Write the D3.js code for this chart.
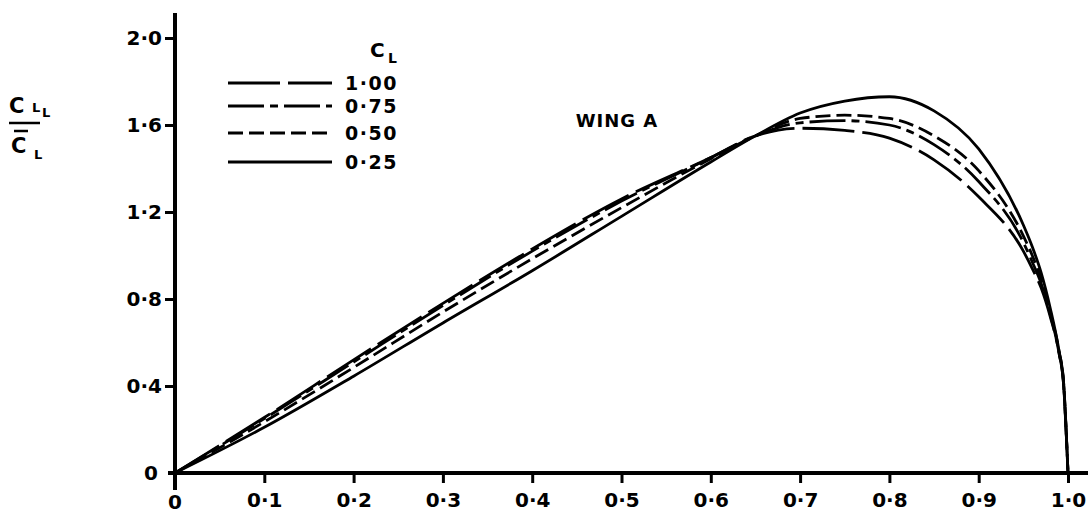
<!DOCTYPE html>
<html>
<head>
<meta charset="utf-8">
<script src="https://cdn.jsdelivr.net/npm/d3@7"></script>
<style>
  html, body { margin: 0; padding: 0; background: #fff; }
  text { font-family: "DejaVu Sans", sans-serif; font-weight: bold; fill: #000; }
</style>
</head>
<body>
<div id="chart"></div>
<script>
// spanwise station (eta) shared by all curves
const eta = [0, 0.1, 0.2, 0.3, 0.4, 0.5, 0.6, 0.65, 0.7, 0.75, 0.8, 0.85, 0.9, 0.95, 0.96, 0.97, 0.98, 0.99, 0.995, 1.0];

// local lift ratio C_LL / C_L for each overall C_L
const cl100 = [0, 0.255, 0.52, 0.78, 1.03, 1.26, 1.45, 1.55, 1.585, 1.575, 1.54, 1.44, 1.27, 1.02, 0.94, 0.85, 0.72, 0.55, 0.41, 0];
const cl075 = [0, 0.25, 0.51, 0.77, 1.02, 1.25, 1.45, 1.55, 1.61, 1.62, 1.60, 1.51, 1.34, 1.06, 0.97, 0.87, 0.73, 0.55, 0.41, 0];
const cl050 = [0, 0.235, 0.485, 0.74, 0.985, 1.22, 1.445, 1.55, 1.63, 1.645, 1.63, 1.55, 1.39, 1.09, 1.00, 0.89, 0.74, 0.56, 0.42, 0];
const cl025 = [0, 0.21, 0.445, 0.69, 0.93, 1.18, 1.43, 1.55, 1.655, 1.71, 1.73, 1.665, 1.49, 1.14, 1.04, 0.92, 0.76, 0.56, 0.42, 0];

const seriesLabels = ["1·00", "0·75", "0·50", "0·25"];
const seriesValues = [cl100, cl075, cl050, cl025];
const seriesDash = ["52,8", "36,6,8,6", "15,6", null];

const xTicks = [0, 0.1, 0.2, 0.3, 0.4, 0.5, 0.6, 0.7, 0.8, 0.9, 1.0];
const xTickLabels = ["0", "0·1", "0·2", "0·3", "0·4", "0·5", "0·6", "0·7", "0·8", "0·9", "1·0"];
const yTicks = [0, 0.4, 0.8, 1.2, 1.6, 2.0];
const yTickLabels = ["0", "0·4", "0·8", "1·2", "1·6", "2·0"];

const W = 1090, H = 515;

const svg = d3.select("#chart").append("svg")
    .attr("width", W)
    .attr("height", H);

const x = d3.scaleLinear().domain([0, 1]).range([175, 1068]);
const y = d3.scaleLinear().domain([0, 2]).range([473, 38]);

// axes lines
svg.append("line")
    .attr("x1", x(0)).attr("x2", x(0))
    .attr("y1", 13).attr("y2", 490)
    .attr("stroke", "#000").attr("stroke-width", 4);
svg.append("line")
    .attr("x1", 168).attr("x2", 1088)
    .attr("y1", y(0)).attr("y2", y(0))
    .attr("stroke", "#000").attr("stroke-width", 4);

// x ticks
const xAxis = d3.axisBottom(x)
    .tickValues(xTicks.slice(1))
    .tickSize(10)
    .tickFormat((d, i) => xTickLabels[i + 1]);
const gx = svg.append("g")
    .attr("transform", "translate(0," + y(0) + ")")
    .call(xAxis);
gx.select(".domain").remove();
gx.selectAll(".tick line").attr("stroke", "#000").attr("stroke-width", 3);
gx.selectAll(".tick text")
    .attr("y", 27)
    .attr("dy", "0.35em")
    .style("font-size", "20px")
    .style("font-family", "DejaVu Sans")
    .style("font-weight", "bold");

// the x "0" label sits straight under the origin
svg.append("text")
    .attr("x", x(0)).attr("y", 502)
    .attr("dy", "0.35em")
    .attr("text-anchor", "middle")
    .style("font-size", "20px")
    .text(xTickLabels[0]);

// y ticks
const yAxis = d3.axisLeft(y)
    .tickValues(yTicks.slice(1))
    .tickSize(10)
    .tickPadding(3)
    .tickFormat((d, i) => yTickLabels[i + 1]);
const gy = svg.append("g")
    .attr("transform", "translate(" + x(0) + ",0)")
    .call(yAxis);
gy.select(".domain").remove();
gy.selectAll(".tick line").attr("stroke", "#000").attr("stroke-width", 3);
gy.selectAll(".tick text")
    .style("font-size", "20px")
    .style("font-family", "DejaVu Sans")
    .style("font-weight", "bold");

svg.append("text")
    .attr("x", 158).attr("y", y(0))
    .attr("dy", "0.35em")
    .attr("text-anchor", "end")
    .style("font-size", "20px")
    .text(yTickLabels[0]);

// curves
const line = d3.line()
    .x(d => x(d[0]))
    .y(d => y(d[1]))
    .curve(d3.curveMonotoneX);

seriesValues.forEach((vals, i) => {
    svg.append("path")
        .datum(eta.map((e, j) => [e, vals[j]]))
        .attr("d", line)
        .attr("fill", "none")
        .attr("stroke", "#000")
        .attr("stroke-width", 2.8)
        .attr("stroke-dasharray", seriesDash[i]);
});

// legend
const legendY = [83, 106, 133, 162];
const legend = svg.append("g");
seriesLabels.forEach((lab, i) => {
    legend.append("line")
        .attr("x1", 228).attr("x2", 332)
        .attr("y1", legendY[i]).attr("y2", legendY[i])
        .attr("stroke", "#000")
        .attr("stroke-width", 2.8)
        .attr("stroke-dasharray", seriesDash[i]);
    legend.append("text")
        .attr("x", 345).attr("y", legendY[i])
        .attr("dy", "0.36em")
        .style("font-size", "19px")
        .style("letter-spacing", "1.5px")
        .text(lab);
});

// legend title C_L
svg.append("text")
    .attr("x", 370).attr("y", 57)
    .style("font-size", "20px")
    .text("C");
svg.append("text")
    .attr("x", 388).attr("y", 63)
    .style("font-size", "14px")
    .text("L");

// WING A
svg.append("text")
    .attr("x", 617).attr("y", 127)
    .attr("text-anchor", "middle")
    .style("font-size", "18px")
    .style("letter-spacing", "1px")
    .text("WING  A");

// y axis title: C_LL over C-bar_L
const yt = svg.append("g");
yt.append("text").attr("x", 9).attr("y", 113).style("font-size", "21px").text("C");
yt.append("text").attr("x", 32).attr("y", 112).style("font-size", "13px").text("L");
yt.append("text").attr("x", 42).attr("y", 117).style("font-size", "13px").text("L");
yt.append("line")
    .attr("x1", 9).attr("x2", 40)
    .attr("y1", 123).attr("y2", 123)
    .attr("stroke", "#000").attr("stroke-width", 2.5);
yt.append("line")
    .attr("x1", 14).attr("x2", 28)
    .attr("y1", 131).attr("y2", 131)
    .attr("stroke", "#000").attr("stroke-width", 2.5);
yt.append("text").attr("x", 11).attr("y", 153).style("font-size", "21px").text("C");
yt.append("text").attr("x", 34).attr("y", 159).style("font-size", "13px").text("L");
</script>
</body>
</html>
